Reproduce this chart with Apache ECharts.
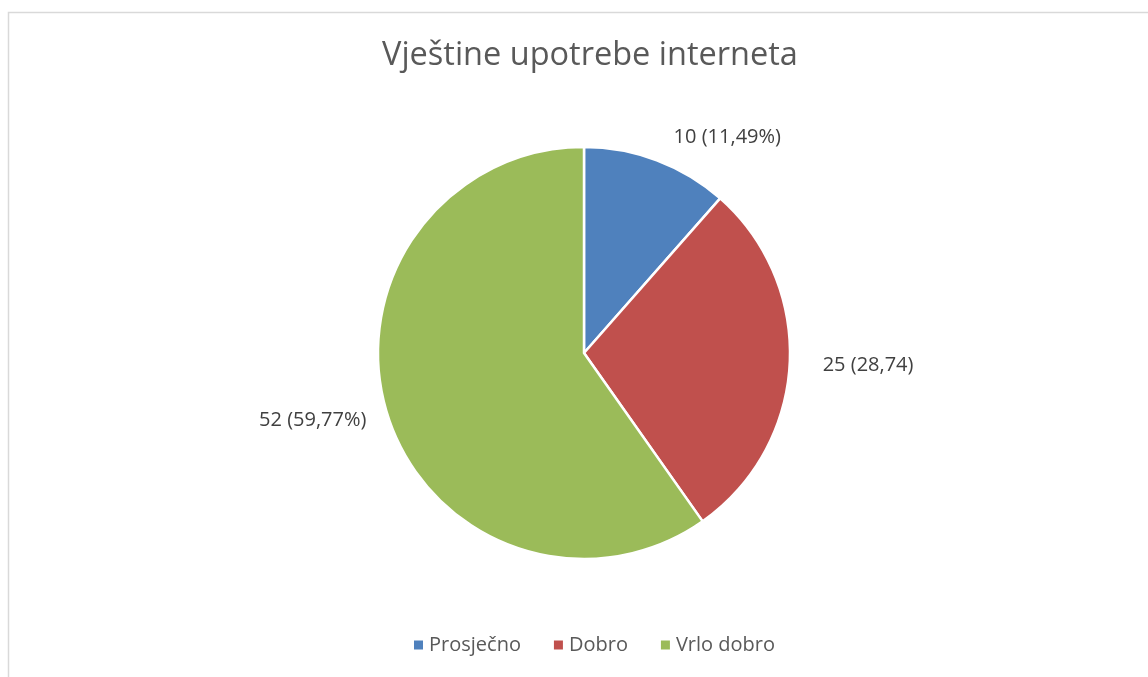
<!DOCTYPE html>
<html>
<head>
<meta charset="utf-8">
<script src="https://cdn.jsdelivr.net/npm/echarts@6/dist/echarts.min.js"></script>
<style>
  html, body { margin: 0; padding: 0; background: #fff; }
  #chart { width: 1148px; height: 677px; }
</style>
</head>
<body>
<div id="chart"></div>
<script>
// podaci
var categories = ['Prosječno', 'Dobro', 'Vrlo dobro'];
var values = [10, 25, 52];
var labelTexts = ['10 (11,49%)', '25 (28,74)', '52 (59,77%)'];
var colors = ['#4F81BD', '#C0504D', '#9BBB59'];
var lineLens = [25, 25, 17]; // udaljenost oznake od ruba

var chart = echarts.init(document.getElementById('chart'));

var data = categories.map(function (name, i) {
    return {
        name: name,
        value: values[i],
        label: { formatter: labelTexts[i] },
        labelLine: { length: lineLens[i], length2: i === 2 ? 0 : 3 }
    };
});

var option = {
    animation: false,
    color: colors,
    textStyle: { fontFamily: 'Open Sans' },
    title: {
        text: 'Vještine upotrebe interneta',
        left: 377,
        top: 34,
        textStyle: {
            color: '#595959',
            fontSize: 32.5,
            fontWeight: 'normal',
            fontFamily: 'Open Sans'
        }
    },
    legend: {
        bottom: 17,
        left: 407,
        itemWidth: 11,
        itemHeight: 11,
        itemGap: 31,
        icon: 'rect',
        textStyle: { color: '#595959', fontSize: 20, fontFamily: 'Open Sans' },
        data: categories
    },
    graphic: [{
        type: 'rect',
        shape: { x: 8.5, y: 12.5, width: 1200, height: 700 },
        style: { fill: 'none', stroke: '#d9d9d9', lineWidth: 1.5 },
        silent: true
    }],
    series: [{
        type: 'pie',
        center: [584, 353],
        radius: [0, 206],
        startAngle: 90,
        clockwise: true,
        avoidLabelOverlap: false,
        itemStyle: { borderColor: '#fff', borderWidth: 2.5 },
        label: {
            show: true,
            position: 'outside',
            color: '#404040',
            fontSize: 20,
            fontFamily: 'Open Sans'
        },
        labelLine: { show: false, length: 25, length2: 3 },
        emphasis: { disabled: true },
        data: data
    }]
};
chart.setOption(option);
</script>
</body>
</html>
